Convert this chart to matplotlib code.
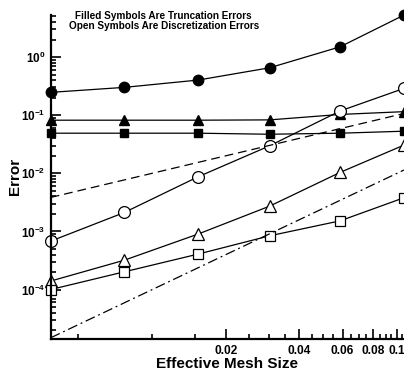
import numpy as np
import matplotlib.pyplot as plt
from matplotlib.ticker import FixedLocator, NullFormatter, LogLocator

plt.rcParams['font.family'] = ['Liberation Sans', 'DejaVu Sans']
plt.rcParams['font.weight'] = 'bold'
plt.rcParams['mathtext.fontset'] = 'custom'
plt.rcParams['mathtext.rm'] = 'Liberation Sans:bold'
plt.rcParams['mathtext.bf'] = 'Liberation Sans:bold'

# mesh sizes
h = [0.00385, 0.0077, 0.0154, 0.0302, 0.0586, 0.107]

# truncation errors (filled)
trunc_circle = [0.247, 0.301, 0.402, 0.654, 1.50, 5.28]
trunc_tri = [0.082, 0.082, 0.082, 0.083, 0.103, 0.115]
trunc_sq = [0.049, 0.049, 0.049, 0.047, 0.049, 0.053]

# discretization errors (open)
disc_circle = [6.8e-4, 2.12e-3, 8.7e-3, 0.0297, 0.118, 0.289]
disc_tri = [1.40e-4, 3.2e-4, 9.0e-4, 2.72e-3, 0.01035, 0.0306]
disc_sq = [1.0e-4, 2.02e-4, 4.07e-4, 8.4e-4, 1.52e-3, 3.8e-3]

# order reference lines
ref_x = [0.00385, 0.107]
ref_first = [0.00385, 0.107]
ref_second = [1.48e-5, 0.0114]

fig = plt.figure(figsize=(4.04, 3.74), dpi=100)
ax = fig.add_axes([0.1255, 0.0936, 0.8745, 0.8675])

kw = dict(color='k', lw=0.9, clip_on=False)
ax.plot(h, trunc_circle, marker='o', ms=7.5, mfc='k', mec='k', **kw)
ax.plot(h, trunc_tri, marker='^', ms=6.5, mfc='k', mec='k', **kw)
ax.plot(h, trunc_sq, marker='s', ms=5.5, mfc='k', mec='k', **kw)
ax.plot(h, disc_circle, marker='o', ms=8.5, mfc='w', mec='k', mew=0.9, **kw)
ax.plot(h, disc_tri, marker='^', ms=8, mfc='w', mec='k', mew=0.9, **kw)
ax.plot(h, disc_sq, marker='s', ms=7, mfc='w', mec='k', mew=0.9, **kw)
ax.plot(ref_x, ref_first, ls=(0, (7, 4)), **kw)
ax.plot(ref_x, ref_second, ls=(0, (8, 3, 1.5, 3)), **kw)

ax.set_xscale('log')
ax.set_yscale('log')
ax.set_xlim(h[0], h[-1])
ax.set_ylim(1.41e-5, 5.39)

xmaj = [0.02, 0.04, 0.06, 0.08, 0.1]
xmin = [0.005 * i for i in range(1, 22) if round(0.005 * i, 3) not in xmaj]
ax.xaxis.set_major_locator(FixedLocator(xmaj))
ax.xaxis.set_minor_locator(FixedLocator(xmin))
ax.set_xticklabels(['0.02', '0.04', '0.06', '0.08', '0.1'])
ax.xaxis.set_minor_formatter(NullFormatter())

ax.yaxis.set_major_locator(FixedLocator([1e-4, 1e-3, 1e-2, 1e-1, 1e0]))
ax.set_yticklabels([r'$10^{-4}$', r'$10^{-3}$', r'$10^{-2}$', r'$10^{-1}$', r'$10^{0}$'])
ax.yaxis.set_minor_locator(LogLocator(base=10, subs=np.arange(2, 10), numticks=20))
ax.yaxis.set_minor_formatter(NullFormatter())

ax.tick_params(which='both', direction='in', width=1.2)
ax.tick_params(axis='x', labelsize=8.6)
ax.tick_params(axis='y', labelsize=8.5)
ax.tick_params(which='major', length=7, pad=4)
ax.tick_params(which='minor', length=3.5)
for s in ['top', 'right']:
    ax.spines[s].set_visible(False)
for s in ['left', 'bottom']:
    ax.spines[s].set_linewidth(1.6)

ax.set_xlabel('Effective Mesh Size', fontsize=11, fontweight='bold', labelpad=0)
ax.set_ylabel('Error', fontsize=11, fontweight='bold', labelpad=-1)

ax.text(0.32, 1.012, 'Filled Symbols Are Truncation Errors\nOpen Symbols Are Discretization Errors',
        transform=ax.transAxes, ha='center', va='top', fontsize=7.2, fontweight='bold',
        linespacing=1.1)

fig.savefig('out.png', dpi=100)
